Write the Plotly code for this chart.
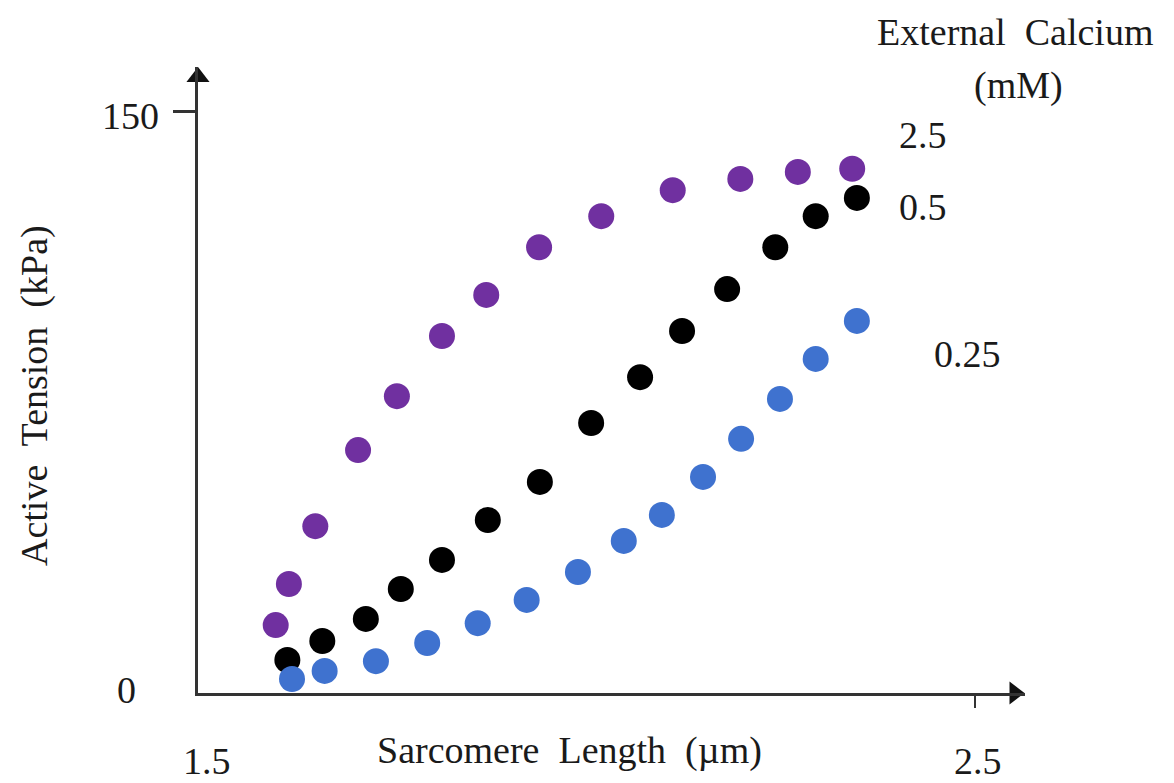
import plotly.graph_objects as go

# ---- data ----
x_ca_2_5 = [1.600, 1.617, 1.651, 1.706, 1.756, 1.814, 1.871, 1.939, 2.019, 2.111, 2.198, 2.272, 2.342]
y_ca_2_5 = [17.5, 28.1, 43.0, 62.6, 76.5, 92.0, 102.6, 114.9, 122.9, 129.6, 132.5, 134.3, 135.1]

x_ca_0_5 = [1.615, 1.660, 1.716, 1.761, 1.814, 1.873, 1.940, 2.006, 2.069, 2.123, 2.181, 2.243, 2.295, 2.348]
y_ca_0_5 = [8.5, 13.4, 19.1, 26.8, 34.3, 44.6, 54.4, 69.6, 81.4, 93.3, 104.1, 114.9, 122.9, 127.6]

x_ca_0_25 = [1.621, 1.663, 1.729, 1.795, 1.860, 1.923, 1.989, 2.048, 2.097, 2.150, 2.199, 2.249, 2.295, 2.348]
y_ca_0_25 = [3.6, 5.7, 8.2, 12.9, 18.0, 24.0, 31.2, 39.2, 45.9, 55.7, 65.5, 75.8, 86.1, 95.9]

series_labels = ["2.5", "0.5", "0.25"]
x_tick_vals = [1.5, 2.5]
x_tick_text = ["1.5", "2.5"]
y_tick_vals = [0, 150]
y_tick_text = ["0", "150"]

X_MIN, X_MAX = 1.5, 2.5644
Y_MIN, Y_MAX = 0, 161.34

W, H = 1174, 783
ML, MR, MT, MB = 198, 149, 67, 90
PW, PH = W - ML - MR, H - MT - MB

FONT = "Liberation Serif, Times New Roman, serif"
TXT = "#1a1a1a"
AX = "#333333"
FS = 38


def px2paper(px, py):
    return (px - ML) / PW, (H - MB - py) / PH


fig = go.Figure()

series = [
    (x_ca_2_5, y_ca_2_5, "#7030A0", series_labels[0]),
    (x_ca_0_5, y_ca_0_5, "#000000", series_labels[1]),
    (x_ca_0_25, y_ca_0_25, "#3F72CF", series_labels[2]),
]
for xs, ys, col, name in series:
    fig.add_trace(go.Scatter(
        x=xs, y=ys, mode="markers", name=name,
        marker=dict(size=26, color=col, line=dict(width=0)),
        cliponaxis=False, showlegend=False,
    ))

# arrowheads at the axis ends
fig.add_trace(go.Scatter(
    x=[X_MIN], y=[Y_MAX - 2.6], mode="markers",
    marker=dict(symbol="triangle-up", size=20, color="#111"),
    cliponaxis=False, showlegend=False, hoverinfo="skip"))
fig.add_trace(go.Scatter(
    x=[X_MAX - 0.0135], y=[0], mode="markers",
    marker=dict(symbol="triangle-right", size=20, color="#111"),
    cliponaxis=False, showlegend=False, hoverinfo="skip"))

fig.update_xaxes(
    range=[X_MIN, X_MAX], showgrid=False, zeroline=False,
    showline=True, linecolor=AX, linewidth=2.5,
    tickvals=[x_tick_vals[1]], ticks="outside", ticklen=12, tickwidth=2, tickcolor=AX,
    showticklabels=False,
)
fig.update_yaxes(
    range=[Y_MIN, Y_MAX], showgrid=False, zeroline=False,
    showline=True, linecolor=AX, linewidth=2.5,
    tickvals=[y_tick_vals[1]], ticks="outside", ticklen=22, tickwidth=2.5, tickcolor=AX,
    showticklabels=False,
)

ann = []


def add_text(text, px, py, angle=0):
    xp, yp = px2paper(px, py)
    ann.append(dict(x=xp, y=yp, xref="paper", yref="paper", text=text,
                    showarrow=False, xanchor="center", yanchor="middle",
                    textangle=angle, font=dict(size=FS, family=FONT, color=TXT)))


# tick labels
add_text(x_tick_text[0], 207, 761)
add_text(x_tick_text[1], 978, 761)
add_text(y_tick_text[0], 126, 690)
add_text(y_tick_text[1], 130, 116)
# axis titles
add_text("Sarcomere  Length  (µm)", 569, 750)
add_text("Active  Tension  (kPa)", 34, 396, angle=-90)
# legend-like labels
add_text("External  Calcium", 1015, 32)
add_text("(mM)", 1018, 85)
for lab, (px, py) in zip(series_labels, [(923, 135), (923, 207), (967, 354)]):
    add_text(lab, px, py)

fig.update_layout(
    width=W, height=H,
    margin=dict(l=ML, r=MR, t=MT, b=MB),
    paper_bgcolor="white", plot_bgcolor="white",
    annotations=ann, showlegend=False,
)

fig.write_html("out.html")
